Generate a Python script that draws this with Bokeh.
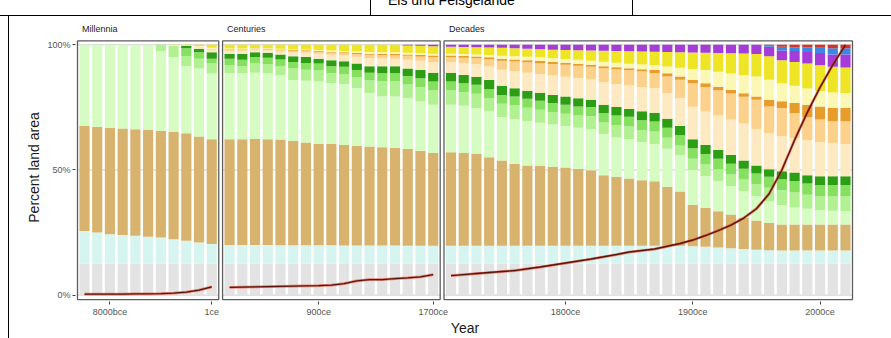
from bokeh.plotting import figure
from bokeh.models import Range1d, FixedTicker, ColumnDataSource, Div
from bokeh.layouts import column, row
from bokeh.embed import file_html
from bokeh.resources import INLINE

# ---------------- data ----------------
millennia = ["10000bce", "9000bce", "8000bce", "7000bce", "6000bce", "5000bce",
             "4000bce", "3000bce", "2000bce", "1000bce", "1ce"]
centuries = ["100ce", "200ce", "300ce", "400ce", "500ce", "600ce", "700ce", "800ce", "900ce",
             "1000ce", "1100ce", "1200ce", "1300ce", "1400ce", "1500ce", "1600ce", "1700ce"]
decades = ["1710ce", "1720ce", "1730ce", "1740ce", "1750ce", "1760ce", "1770ce", "1780ce",
           "1790ce", "1800ce", "1810ce", "1820ce", "1830ce", "1840ce", "1850ce", "1860ce",
           "1870ce", "1880ce", "1890ce", "1900ce", "1910ce", "1920ce", "1930ce", "1940ce",
           "1950ce", "1960ce", "1970ce", "1980ce", "1990ce", "2000ce", "2010ce", "2020ce"]
panel_names = ["Millennia", "Centuries", "Decades"]
header_text = "Eis und Felsgelände"

x_tick_labels = ["8000bce", "1ce", "900ce", "1700ce", "1800ce", "1900ce", "2000ce"]
x_tick_bars = [2, 10, 18, 27, 37, 47, 57]
y_tick_values = [0, 50, 100]
y_tick_labels = ["0%", "50%", "100%"]

# cumulative tops (percent land area), bars in order: millennia, centuries, decades
ice_top = [12.5, 12.5, 12.5, 12.5, 12.5, 12.5, 12.5, 12.5, 12.5, 12.5, 12.5,
           12.5, 12.5, 12.5, 12.5, 12.5, 12.5, 12.5, 12.5, 12.5, 12.5, 12.5, 12.5, 12.5, 12.5, 12.5, 12.5, 12.5,
           12.5, 12.5, 12.5, 12.5, 12.5, 12.5, 12.5, 12.5, 12.5, 12.5, 12.5, 12.5, 12.5, 12.5, 12.5, 12.5,
           12.5, 12.5, 12.5, 12.5, 12.5, 12.5, 12.5, 12.5, 12.5, 12.5, 12.5, 12.5, 12.5, 12.5, 12.5, 12.5]
barren_top = [25.6, 25.0, 24.3, 24.0, 23.7, 23.3, 23.0, 22.3, 21.7, 21.0, 20.4,
              20.0, 20.0, 20.0, 20.0, 19.9, 19.9, 19.9, 19.9, 19.9, 19.8, 19.8, 19.8, 19.8, 19.8, 19.7, 19.7, 19.7,
              19.7, 19.7, 19.7, 19.7, 19.7, 19.7, 19.7, 19.7, 19.7, 19.7, 19.7, 19.7, 19.7, 19.7, 19.7, 19.7,
              19.7, 19.7, 19.7, 19.5, 19.3, 19.0, 18.7, 18.4, 18.1, 17.9, 17.8, 17.8, 17.8, 17.8, 17.8, 17.8]
dry_top = [67.6, 67.3, 66.9, 66.6, 66.3, 66.0, 65.6, 65.2, 64.7, 63.4, 62.3,
           62.3, 62.3, 62.4, 62.3, 62.2, 61.7, 61.0, 60.4, 60.4, 60.0, 59.7, 59.4, 59.1, 58.8, 58.4, 57.7, 56.8,
           57.1, 56.8, 56.4, 55.1, 53.8, 52.5, 51.8, 51.6, 51.2, 51.0, 50.5, 49.9, 47.9, 47.3, 46.6, 45.9,
           45.5, 43.3, 41.4, 36.1, 34.8, 33.5, 32.2, 30.9, 29.8, 28.9, 28.2, 28.2, 28.2, 28.2, 28.2, 28.2]
wild_wood_top = [100, 100, 100, 100, 100, 100, 97.5, 95.0, 91.5, 90.5, 88.5,
                 88.6, 88.6, 88.8, 88.6, 87.9, 85.9, 85.6, 85.3, 84.6, 84.2, 82.7, 80.7, 79.4, 79.4, 78.7, 77.4, 76.1,
                 76.1, 75.7, 74.8, 73.5, 71.2, 70.4, 69.5, 68.9, 68.2, 67.6, 66.9, 66.3, 64.3, 63.0, 62.4, 61.1,
                 60.4, 58.5, 56.0, 50.0, 47.5, 45.5, 43.5, 41.5, 39.5, 37.5, 36.0, 35.0, 34.5, 34.0, 33.7, 33.5]
remote_wood_top = [100, 100, 100, 100, 100, 100, 100, 99.5, 95.5, 94.4, 92.5,
                   91.9, 91.5, 92.6, 92.3, 91.5, 90.5, 90.0, 89.7, 88.6, 88.3, 86.9, 85.7, 85.4, 85.3, 84.1, 83.1, 81.8,
                   81.8, 81.1, 80.5, 78.8, 76.5, 75.8, 74.9, 74.1, 73.2, 72.5, 71.8, 71.5, 69.0, 68.0, 67.4, 66.0,
                   65.4, 62.9, 59.8, 54.5, 52.2, 50.3, 48.2, 46.2, 44.3, 42.9, 41.9, 41.0, 40.1, 39.4, 39.4, 39.4]
pop_wood_top = [100, 100, 100, 100, 100, 100, 100, 99.5, 98.6, 97.0, 94.4,
                94.4, 94.0, 95.1, 94.8, 94.1, 93.1, 92.7, 92.5, 91.4, 91.2, 89.9, 88.8, 88.6, 88.6, 87.5, 86.6, 85.3,
                85.3, 84.6, 84.0, 82.3, 80.0, 79.4, 78.5, 77.7, 76.8, 76.1, 75.4, 75.2, 72.8, 71.8, 71.3, 69.9,
                69.4, 66.9, 63.9, 58.7, 56.4, 54.5, 52.5, 50.5, 48.6, 47.3, 46.3, 45.5, 44.6, 44.0, 44.0, 44.0]
res_wood_top = [100, 100, 100, 100, 100, 100, 100, 99.5, 99.6, 98.4, 97.0,
                96.4, 96.4, 97.0, 96.8, 96.1, 95.4, 95.1, 94.4, 93.8, 93.4, 92.5, 91.4, 91.4, 91.4, 90.5, 89.9, 88.8,
                88.8, 87.9, 87.2, 85.9, 83.6, 82.7, 81.7, 80.9, 80.0, 79.4, 78.7, 78.1, 76.1, 75.2, 74.4, 73.5,
                72.9, 70.5, 67.6, 62.3, 60.0, 58.1, 56.0, 53.8, 51.8, 50.3, 49.5, 49.0, 47.9, 47.5, 47.5, 47.5]
remote_range_top = [100, 100, 100, 100, 100, 100, 100, 99.8, 99.8, 99.0, 98.0,
                    97.6, 97.6, 98.0, 97.8, 97.4, 97.0, 96.8, 96.4, 96.0, 95.7, 95.2, 94.6, 94.5, 94.4, 94.0, 93.6, 93.0,
                    93.0, 92.6, 92.2, 91.3, 90.0, 89.4, 88.8, 88.3, 87.7, 87.2, 86.7, 86.2, 85.0, 84.3, 83.7, 83.2,
                    82.8, 80.8, 78.8, 75.3, 73.4, 71.8, 70.2, 68.6, 66.3, 64.8, 63.6, 62.8, 62.0, 61.2, 60.8, 60.4]
pop_range_top = [100, 100, 100, 100, 100, 100, 100, 99.8, 99.8, 99.3, 98.4,
                 98.0, 98.0, 98.3, 98.2, 97.9, 97.6, 97.5, 97.2, 96.9, 96.6, 96.3, 96.0, 95.9, 95.8, 95.6, 95.3, 95.0,
                 95.0, 94.8, 94.6, 94.2, 93.6, 93.3, 93.0, 92.6, 92.3, 92.0, 91.6, 91.2, 90.6, 90.2, 89.8, 89.4,
                 88.6, 87.3, 86.0, 84.6, 83.2, 81.9, 80.6, 79.3, 78.1, 75.4, 74.8, 72.8, 71.2, 70.2, 69.5, 69.5]
res_range_top = [100, 100, 100, 100, 100, 100, 100, 99.8, 99.8, 99.3, 98.4,
                 98.2, 98.2, 98.5, 98.4, 98.1, 97.9, 97.8, 97.5, 97.2, 97.0, 96.7, 96.4, 96.4, 96.3, 96.1, 95.9, 95.7,
                 95.7, 95.5, 95.3, 95.0, 94.4, 94.1, 93.8, 93.5, 93.1, 92.8, 92.4, 92.0, 91.4, 91.0, 90.6, 90.2,
                 89.9, 88.6, 87.3, 86.0, 84.6, 83.3, 82.0, 80.7, 79.4, 78.1, 77.5, 76.8, 76.1, 75.4, 74.8, 74.8]
remote_crop_top = [100, 100, 100, 100, 100, 100, 100, 99.9, 99.9, 99.5, 98.8,
                   98.5, 98.5, 98.7, 98.6, 98.4, 98.2, 98.1, 97.9, 97.7, 97.5, 97.3, 97.1, 97.0, 97.0, 96.8, 96.6, 96.4,
                   96.4, 96.3, 96.1, 95.9, 95.6, 95.4, 95.2, 95.0, 94.6, 94.3, 94.0, 93.6, 93.2, 92.8, 92.4, 92.1,
                   91.8, 91.3, 90.8, 90.3, 89.9, 89.2, 88.5, 87.9, 87.3, 86.0, 84.6, 83.6, 82.6, 81.6, 81.0, 80.7]
pop_crop_top = [100, 100, 100, 100, 100, 100, 100, 100, 100, 100, 100,
                100, 100, 100, 100, 100, 100, 100, 100, 100, 100, 100, 100, 100, 100, 99.7, 99.6, 99.4,
                99.2, 99.1, 99.0, 98.9, 98.8, 98.6, 98.4, 98.2, 98.0, 97.9, 97.8, 97.7, 97.6, 97.5, 97.4, 97.3,
                97.2, 97.1, 97.0, 96.9, 96.8, 96.7, 96.6, 96.5, 96.3, 95.4, 93.8, 93.1, 92.5, 91.8, 91.2, 90.9]
villages_top = [100, 100, 100, 100, 100, 100, 100, 100, 100, 100, 100,
                100, 100, 100, 100, 100, 100, 100, 100, 100, 100, 100, 100, 100, 100, 100, 100, 100,
                100, 100, 100, 100, 100, 100, 100, 100, 100, 100, 100, 100, 100, 100, 100, 100,
                100, 100, 100, 100, 100, 100, 100, 100, 100, 99.2, 97.7, 97.5, 97.1, 96.7, 96.1, 96.1]
rice_top = [100, 100, 100, 100, 100, 100, 100, 100, 100, 100, 100,
            100, 100, 100, 100, 100, 100, 100, 100, 100, 100, 100, 100, 100, 100, 100, 100, 100,
            100, 100, 100, 100, 100, 100, 100, 100, 100, 100, 100, 100, 100, 100, 100, 100,
            100, 100, 100, 100, 100, 100, 100, 100, 100, 99.6, 99.2, 99.0, 98.9, 98.8, 98.6, 98.6]
urban_top = [100, 100, 100, 100, 100, 100, 100, 100, 100, 100, 100,
             100, 100, 100, 100, 100, 100, 100, 100, 100, 100, 100, 100, 100, 100, 100, 100, 100,
             100, 100, 100, 100, 100, 100, 100, 100, 100, 100, 100, 100, 100, 100, 100, 100,
             100, 100, 100, 100, 100, 100, 100, 100, 100, 100, 100, 100, 100, 100, 100, 100]

# red curve (percent)
curve_pct = [0.4, 0.4, 0.4, 0.4, 0.5, 0.5, 0.6, 0.8, 1.2, 2.0, 3.3,
             3.1, 3.2, 3.3, 3.4, 3.5, 3.6, 3.7, 3.8, 4.0, 4.6, 5.7, 6.2, 6.2, 6.6, 6.9, 7.3, 8.2,
             7.8, 8.2, 8.6, 9.0, 9.4, 9.8, 10.5, 11.2, 12.0, 12.8, 13.6, 14.4, 15.3, 16.2, 17.2, 17.8,
             18.4, 19.5, 20.6, 22.0, 23.8, 25.8, 28.0, 30.8, 34.5, 40.5, 50.0, 62.0, 73.0, 83.0, 92.0, 100.0]

layer_tops = [ice_top, barren_top, dry_top, wild_wood_top, remote_wood_top, pop_wood_top,
              res_wood_top, remote_range_top, pop_range_top, res_range_top, remote_crop_top,
              pop_crop_top, villages_top, rice_top, urban_top]
layer_colors = ["#e3e3e3", "#d7f5f0", "#d8b36d", "#d6fcc3", "#b2f192", "#86e060",
                "#2c9e14", "#fde9c2", "#fbd18c", "#e89c2c", "#fbf8b6", "#ede526",
                "#a63cd8", "#3a88e4", "#d93222"]

# ---------------- layout geometry ----------------
PAGE_W, PAGE_H = 891, 338
TOP_H = 33          # header strip: document table rules + facet strip labels
LEFT_W = 9          # left strip with the document's table rule
FIG_W, FIG_H = PAGE_W - LEFT_W, PAGE_H - TOP_H

counts = [len(millennia), len(centuries), len(decades)]
HALF = 0.55
GAP = 0.3
starts = []
s = 0.0
for n in counts:
    starts.append(s)
    s += (n - 1) + 2 * HALF + GAP
xs = []
for st, n in zip(starts, counts):
    xs += [round(st + i, 2) for i in range(n)]
panel_lr = [(st - HALF, st + n - 1 + HALF) for st, n in zip(starts, counts)]

PXS = 12.726
PAD = 2 / PXS
x0, x1 = panel_lr[0][0] - PAD, panel_lr[-1][1] + PAD
frame_w = round((x1 - x0) * PXS)
FRAME_LEFT = 75          # page px
FRAME_TOP = TOP_H        # page px
FRAME_BOTTOM = 305       # page px
YPX = 2.54
Y_ZERO = 298.5           # page px of 0 %
y1 = (Y_ZERO - FRAME_TOP) / YPX
y0 = (Y_ZERO - FRAME_BOTTOM) / YPX
frame_h = FRAME_BOTTOM - FRAME_TOP

def py2y(py):
    return (Y_ZERO - py) / YPX

def x2px(x):
    return FRAME_LEFT + (x - x0) * PXS

mb_left = FRAME_LEFT - LEFT_W
p = figure(width=FIG_W, height=FIG_H, x_range=Range1d(x0, x1), y_range=Range1d(y0, y1),
           min_border_left=mb_left, min_border_top=0,
           min_border_right=FIG_W - mb_left - frame_w,
           min_border_bottom=FIG_H - frame_h,
           output_backend="svg", toolbar_location=None)
p.outline_line_color = None
p.xgrid.visible = False
p.ygrid.visible = False
p.background_fill_color = "white"
p.border_fill_color = "white"

# grid lines inside panels (under bars)
gx0, gx1, gy = [], [], []
for (l, r) in panel_lr:
    for v in y_tick_values:
        gx0.append(l); gx1.append(r); gy.append(v)
p.segment(x0=gx0, x1=gx1, y0=gy, y1=gy, line_color="#cdcdcd", line_width=1)

# stacked bars
src = {"x": xs}
prev = [0.0] * len(xs)
for k, tops in enumerate(layer_tops):
    src["b%d" % k] = prev
    src["t%d" % k] = tops
    prev = tops
source = ColumnDataSource(src)
for k, c in enumerate(layer_colors):
    p.vbar(x="x", width=0.8, bottom="b%d" % k, top="t%d" % k, source=source,
           fill_color=c, line_color=None)

# red curve, one line per panel
i0 = 0
for n in counts:
    cx = xs[i0:i0 + n]
    cy = curve_pct[i0:i0 + n]
    p.line(cx, cy, line_color="#d9402c", line_width=2.8, line_alpha=0.6)
    p.line(cx, cy, line_color="#5e1408", line_width=1.4)
    i0 += n

# panel borders
p.quad(left=[l for l, r in panel_lr], right=[r for l, r in panel_lr],
       bottom=py2y(303.0), top=py2y(40.5), fill_color=None,
       line_color="#5c5c5c", line_width=1.3)

# axes
tick_pos = [xs[i] for i in x_tick_bars]
p.xaxis.ticker = FixedTicker(ticks=tick_pos)
p.xaxis.major_label_overrides = {t: lab for t, lab in zip(tick_pos, x_tick_labels)}
p.yaxis.ticker = FixedTicker(ticks=y_tick_values)
p.yaxis.major_label_overrides = {v: lab for v, lab in zip(y_tick_values, y_tick_labels)}
for ax in (p.xaxis[0], p.yaxis[0]):
    ax.axis_line_color = None
    ax.major_tick_line_color = "#444444"
    ax.major_tick_in = 0
    ax.major_tick_out = 3
    ax.minor_tick_line_color = None
    ax.major_label_text_font = "Liberation Sans"
    ax.major_label_text_font_size = "9px"
    ax.major_label_text_color = "#555555"
    ax.major_label_standoff = 2
    ax.axis_label_text_font = "Liberation Sans"
    ax.axis_label_text_font_size = "14px"
    ax.axis_label_text_font_style = "normal"
    ax.axis_label_text_color = "#1a1a1a"
p.yaxis.axis_label = "Percent land area"
p.yaxis.axis_label_standoff = 2
p.xaxis.axis_label = "Year"
p.xaxis.axis_label_standoff = 0

# header strip: table rules of the source document, header cell text, facet strip labels
strip_html = "".join(
    '<div style="position:absolute;left:%dpx;top:24px;font-size:9px;line-height:11px;'
    'color:#222;white-space:nowrap;">%s</div>' % (round(x2px(l) - LEFT_W * 0 + 5), name)
    for (l, r), name in zip(panel_lr, panel_names))
top_html = (
    '<div style="position:relative;width:%dpx;height:%dpx;overflow:hidden;'
    'font-family:\'Liberation Sans\',Arial,sans-serif;">'
    '<div style="position:absolute;left:0;top:15px;width:%dpx;height:1px;background:#000;"></div>'
    '<div style="position:absolute;left:8px;top:15px;width:1px;height:%dpx;background:#000;"></div>'
    '<div style="position:absolute;left:370px;top:0;width:1px;height:15px;background:#000;"></div>'
    '<div style="position:absolute;left:632px;top:0;width:1px;height:15px;background:#000;"></div>'
    '<div style="position:absolute;left:388px;top:-8px;font-size:14px;line-height:16px;color:#000;'
    'white-space:nowrap;">%s</div>%s'
    '</div>' % (PAGE_W, TOP_H, PAGE_W, TOP_H - 15, header_text, strip_html)
)
top_div = Div(text=top_html, width=PAGE_W, height=TOP_H, margin=0)
left_html = ('<div style="position:relative;width:%dpx;height:%dpx;">'
             '<div style="position:absolute;left:8px;top:0;width:1px;height:%dpx;background:#000;"></div>'
             '</div>' % (LEFT_W, FIG_H, FIG_H))
left_div = Div(text=left_html, width=LEFT_W, height=FIG_H, margin=0)

layout = column(top_div, row(left_div, p, spacing=0), spacing=0)
open("out.html", "w").write(file_html(layout, INLINE))
